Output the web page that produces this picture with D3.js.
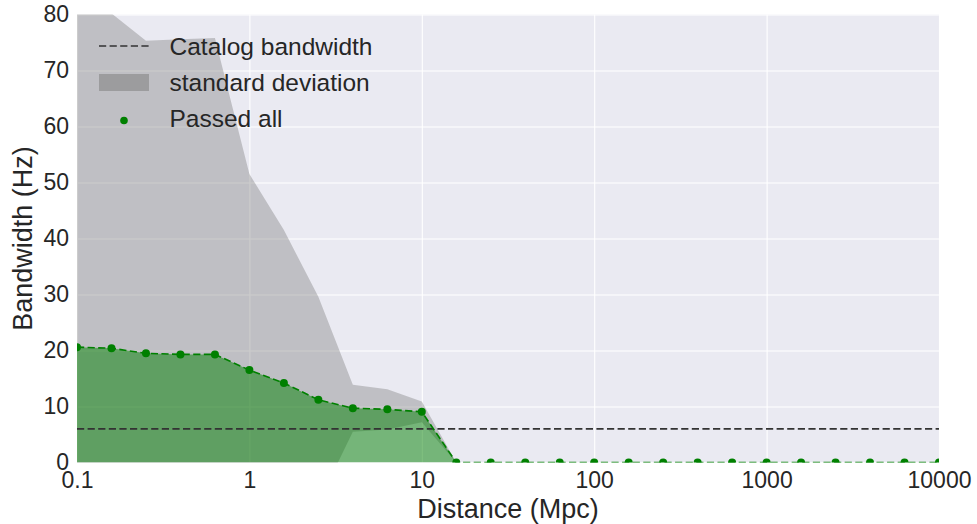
<!DOCTYPE html>
<html>
<head>
<meta charset="utf-8">
<script src="https://cdn.jsdelivr.net/npm/d3@7"></script>
<style>
  html, body { margin: 0; padding: 0; background: #ffffff; }
  svg { display: block; }
  text { font-family: "Liberation Sans", Arial, sans-serif; fill: #262626; }
</style>
</head>
<body>
<svg id="chart" width="977" height="524"></svg>
<script>
// Sampled distances (Mpc), log-spaced
const distances = [0.1, 0.1585, 0.2512, 0.3981, 0.631, 1, 1.585, 2.512, 3.981, 6.31, 10,
  15.85, 25.12, 39.81, 63.1, 100, 158.5, 251.2, 398.1, 631, 1000, 1585, 2512, 3981, 6310, 10000];
// Mean bandwidth of injections that passed all cuts (Hz)
const passedBandwidth = [20.6, 20.4, 19.5, 19.3, 19.3, 16.5, 14.2, 11.2, 9.7, 9.5, 9.05,
  0, 0, 0, 0, 0, 0, 0, 0, 0, 0, 0, 0, 0, 0, 0];
// Standard deviation of that bandwidth (Hz)
const bandwidthStd = [63.0, 59.8, 55.8, 56.3, 56.5, 35.0, 27.3, 18.4, 4.2, 3.6, 1.85,
  0, 0, 0, 0, 0, 0, 0, 0, 0, 0, 0, 0, 0, 0, 0];
// Catalog bandwidth reference level (Hz)
const catalogBandwidth = 6;

const xTicks = [0.1, 1, 10, 100, 1000, 10000];
const xTickLabels = ["0.1", "1", "10", "100", "1000", "10000"];
const yTicks = [0, 10, 20, 30, 40, 50, 60, 70, 80];

const legendLabels = ["Catalog bandwidth", "standard deviation", "Passed all"];

const svg = d3.select("#chart");
const margin = { left: 77, right: 38, top: 14.5, bottom: 61.5 };
const W = 977, H = 524;
const plotW = W - margin.left - margin.right;
const plotH = H - margin.top - margin.bottom;

const x = d3.scaleLog().domain([0.1, 10000]).range([0, plotW]);
const y = d3.scaleLinear().domain([0, 80]).range([plotH, 0]);

const rows = distances.map((d, i) => ({
  d, mean: passedBandwidth[i], std: bandwidthStd[i]
}));

const g = svg.append("g").attr("transform", `translate(${margin.left},${margin.top})`);

svg.append("defs").append("clipPath").attr("id", "plotClip")
  .append("rect").attr("width", plotW).attr("height", plotH);

// Axes background
g.append("rect").attr("width", plotW).attr("height", plotH).attr("fill", "#EAEAF2");

// Gridlines
const gridX = g.append("g").attr("transform", `translate(0,${plotH})`)
  .call(d3.axisBottom(x).tickValues(xTicks).tickSize(-plotH).tickFormat(""));
const gridY = g.append("g")
  .call(d3.axisLeft(y).tickValues(yTicks).tickSize(-plotW).tickFormat(""));
[gridX, gridY].forEach(ax => {
  ax.select(".domain").remove();
  ax.selectAll("line").attr("stroke", "#ffffff").attr("stroke-width", 1.1);
});

const plot = g.append("g").attr("clip-path", "url(#plotClip)");

// Standard deviation band
plot.append("path").datum(rows)
  .attr("fill", "#808080").attr("fill-opacity", 0.4)
  .attr("d", d3.area()
    .x(r => x(r.d))
    .y0(r => y(r.mean - r.std))
    .y1(r => y(r.mean + r.std)));

// Passed-all fill
plot.append("path").datum(rows)
  .attr("fill", "#008000").attr("fill-opacity", 0.5)
  .attr("d", d3.area()
    .x(r => x(r.d))
    .y0(y(0))
    .y1(r => y(r.mean)));

// Catalog bandwidth
plot.append("line")
  .attr("x1", 0).attr("x2", plotW)
  .attr("y1", y(catalogBandwidth)).attr("y2", y(catalogBandwidth))
  .attr("stroke", "#333333").attr("stroke-width", 1.6)
  .attr("stroke-dasharray", "7.2,3.4");

// Passed-all line and markers
plot.append("path").datum(rows)
  .attr("fill", "none").attr("stroke", "#008000").attr("stroke-width", 1.6)
  .attr("stroke-dasharray", "7.2,3.4")
  .attr("d", d3.line().x(r => x(r.d)).y(r => y(r.mean)));
plot.selectAll("circle.pt").data(rows).enter().append("circle")
  .attr("class", "pt")
  .attr("cx", r => x(r.d)).attr("cy", r => y(r.mean)).attr("r", 4)
  .attr("fill", "#008000");

// Tick labels
const xAxis = g.append("g").attr("transform", `translate(0,${plotH})`)
  .call(d3.axisBottom(x).tickValues(xTicks).tickSize(0).tickPadding(9.5)
    .tickFormat((d, i) => xTickLabels[i]));
const yAxis = g.append("g")
  .call(d3.axisLeft(y).tickValues(yTicks).tickSize(0).tickPadding(8));
[xAxis, yAxis].forEach(ax => {
  ax.select(".domain").remove();
  ax.selectAll("text").attr("font-size", 23).attr("fill", "#262626")
    .attr("font-family", "'Liberation Sans', Arial, sans-serif");
});

// Axis titles
svg.append("text")
  .attr("x", margin.left + plotW / 2).attr("y", 518)
  .attr("text-anchor", "middle").attr("font-size", 27)
  .text("Distance (Mpc)");
svg.append("text")
  .attr("transform", `translate(32,${margin.top + plotH / 2}) rotate(-90)`)
  .attr("text-anchor", "middle").attr("font-size", 27)
  .text("Bandwidth (Hz)");

// Legend
const legend = svg.append("g");
const lx0 = 99, lx1 = 149, tx = 169.5;
const baselines = [55, 91, 127];
legend.append("line")
  .attr("x1", lx0).attr("x2", lx1).attr("y1", 46).attr("y2", 46)
  .attr("stroke", "#333333").attr("stroke-width", 1.6).attr("stroke-dasharray", "7.2,3.4");
legend.append("rect")
  .attr("x", lx0).attr("y", 74).attr("width", lx1 - lx0).attr("height", 17)
  .attr("fill", "#808080").attr("fill-opacity", 0.55);
legend.append("circle")
  .attr("cx", (lx0 + lx1) / 2).attr("cy", 120.5).attr("r", 3.8).attr("fill", "#008000");
legend.selectAll("text.lg").data(legendLabels).enter().append("text")
  .attr("class", "lg")
  .attr("x", tx).attr("y", (d, i) => baselines[i])
  .attr("font-size", 24.5)
  .text(d => d);
</script>
</body>
</html>
